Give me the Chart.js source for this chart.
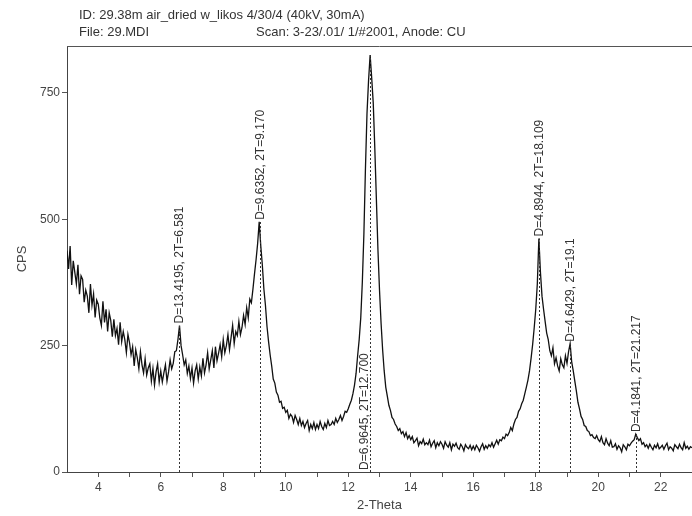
<!DOCTYPE html>
<html>
<head>
<meta charset="utf-8">
<script src="https://cdn.jsdelivr.net/npm/chart.js@4"></script>
<style>
  html, body { margin: 0; padding: 0; background: #fff; }
  #wrap { width: 692px; height: 516px; }
</style>
</head>
<body>
<div id="wrap"><canvas id="xrdChart" width="692" height="516"></canvas></div>
<script>
// scan 3-23 deg 2-theta, values read every 0.05 deg
const xStart = 3;
const xStep = 0.05;
const cps = [
  438, 402, 447, 370, 418, 395, 372, 410, 352, 388,
  381, 336, 360, 348, 315, 372, 330, 352, 306, 340,
  332, 305, 290, 338, 296, 322, 278, 315, 300, 268,
  302, 270, 284, 252, 296, 258, 278, 262, 236, 272,
  256, 232, 248, 210, 242, 226, 204, 238, 212, 196,
  224, 192, 206, 214, 180, 205, 172, 198, 214, 178,
  200, 178, 196, 212, 180, 198, 222, 204, 215, 238,
  240, 262, 290, 250, 232, 212, 222, 195, 210, 185,
  206, 176, 200, 212, 184, 208, 190, 225, 196, 212,
  236, 204, 222, 240, 206, 248, 220, 235, 252, 228,
  262, 236, 250, 272, 242, 266, 290, 254, 278, 270,
  298, 272, 286, 310, 292, 325, 305, 342, 335, 362,
  392, 420, 452, 495, 448, 410, 362, 330, 288, 258,
  232, 210, 184, 176, 158, 152, 138, 140, 126, 128,
  118, 122, 106, 114, 110, 98, 112, 104, 94, 106,
  92, 100, 88, 96, 102, 82, 94, 86, 98, 84,
  94, 86, 100, 90, 84, 96, 88, 102, 92, 94,
  100, 94, 106, 98, 104, 112, 102, 110, 120, 118,
  125, 134, 142, 155, 172, 195, 230, 262, 305, 375,
  470, 600, 710, 775, 825, 780, 730, 640, 540, 440,
  360, 295, 242, 200, 168, 150, 132, 122, 108, 104,
  95, 90, 82, 86, 76, 80, 70, 78, 66, 72,
  64, 70, 58, 62, 67, 52, 60, 56, 65, 54,
  58, 54, 63, 50, 57, 62, 48, 58, 52, 60,
  55, 47, 60, 53, 49, 58, 44, 55, 51, 57,
  48, 45, 55, 50, 42, 54, 49, 46, 53, 44,
  51, 44, 53, 48, 41, 50, 56, 45, 52, 47,
  54, 50, 58, 49, 56, 63, 55, 64, 62, 69,
  66, 75, 72, 78, 88, 82, 95, 104, 108, 120,
  125, 135, 142, 155, 168, 182, 200, 225, 252, 285,
  322, 372, 462, 395, 348, 322, 298, 275, 262, 240,
  230, 246, 214, 226, 210, 200, 224, 212, 206, 230,
  215, 238, 254, 218, 200, 180, 160, 138, 125, 110,
  104, 92, 90, 82, 80, 72, 74, 68, 66, 72,
  64, 60, 70, 58, 54, 66, 57, 52, 62, 49,
  50, 56, 45, 52, 48, 40, 54, 50, 44, 55,
  52, 57, 61, 64, 75, 68, 62, 66, 55, 58,
  50, 54, 47, 55, 49, 44, 53, 48, 56, 46,
  49, 53, 45, 52, 57, 44, 50, 47, 42, 54,
  50, 46, 55, 48, 44, 58, 47, 51, 45, 50,
  48
];

// marked peaks
const peakTheta = [6.581, 9.170, 12.700, 18.109, 19.1, 21.217];
const peakTwoT = ['6.581', '9.170', '12.700', '18.109', '19.1', '21.217'];
const peakD = ['13.4195', '9.6352', '6.9645', '4.8944', '4.6429', '4.1841'];
const peakCps = [290, 495, 825, 462, 254, 75];

const xTicks = [4, 5, 6, 7, 8, 9, 10, 11, 12, 13, 14, 15, 16, 17, 18, 19, 20, 21, 22];
const yTicks = [0, 250, 500, 750];

const headerLine1 = 'ID: 29.38m air_dried w_likos 4/30/4 (40kV, 30mA)';
const headerFile = 'File: 29.MDI';
const headerScan = 'Scan: 3-23/.01/ 1/#2001, Anode: CU';

const FONT = '"Liberation Sans", Arial, sans-serif';
const points = cps.map((v, i) => ({ x: +(xStart + i * xStep).toFixed(2), y: v }));

const peakPlugin = {
  id: 'peaks',
  afterDatasetsDraw(chart) {
    const { ctx, chartArea, scales: { x, y } } = chart;
    ctx.save();
    ctx.strokeStyle = '#333';
    ctx.fillStyle = '#333';
    ctx.lineWidth = 1;
    ctx.font = '12px ' + FONT;
    peakTheta.forEach((t, i) => {
      const px = Math.round(x.getPixelForValue(t)) + 0.5;
      const top = y.getPixelForValue(peakCps[i]);
      ctx.setLineDash([2, 2]);
      ctx.beginPath();
      ctx.moveTo(px, y.getPixelForValue(0));
      ctx.lineTo(px, top);
      ctx.stroke();
      ctx.setLineDash([]);

      const text = 'D=' + peakD[i] + ', 2T=' + peakTwoT[i];
      const w = ctx.measureText(text).width;
      ctx.save();
      if (top - w - 4 < chartArea.top) {
        // no room above the peak: write it up from the baseline
        ctx.translate(px - 6, chartArea.bottom - 2);
      } else {
        ctx.translate(px, top - 2);
      }
      ctx.rotate(-Math.PI / 2);
      ctx.textAlign = 'left';
      ctx.textBaseline = 'middle';
      ctx.fillText(text, 0, 0);
      ctx.restore();
    });
    ctx.restore();
  },
  afterDraw(chart) {
    const { ctx, chartArea } = chart;
    ctx.save();
    // top frame line
    ctx.strokeStyle = '#555';
    ctx.lineWidth = 1;
    ctx.beginPath();
    ctx.moveTo(chartArea.left, chartArea.top + 0.5);
    ctx.lineTo(chartArea.right, chartArea.top + 0.5);
    ctx.stroke();
    // header
    ctx.fillStyle = '#333';
    ctx.font = '13px ' + FONT;
    ctx.textBaseline = 'middle';
    ctx.fillText(headerLine1, 79, 15);
    ctx.fillText(headerFile, 79, 32);
    ctx.fillText(headerScan, 256, 32);
    ctx.restore();
  }
};

const ctx = document.getElementById('xrdChart').getContext('2d');
const xrdChart = new Chart(ctx, {
  type: 'line',
  data: {
    datasets: [{
      data: points,
      borderColor: '#111',
      borderWidth: 1.3,
      pointRadius: 0,
      tension: 0,
      fill: false,
    }]
  },
  options: {
    responsive: false,
    animation: false,
    layout: { padding: { top: 46, right: 0, left: 0, bottom: 0 } },
    plugins: {
      legend: { display: false },
      tooltip: { enabled: false },
    },
    scales: {
      x: {
        type: 'linear',
        min: 3,
        max: 23,
        afterBuildTicks: (s) => { s.ticks = xTicks.map(v => ({ value: v })); },
        afterFit: (s) => { s.height = 44; },
        grid: { drawOnChartArea: false, drawTicks: true, tickLength: 5, color: '#555' },
        border: { color: '#444', width: 1 },
        ticks: {
          color: '#444',
          font: { family: FONT, size: 12 },
          padding: 3,
          maxRotation: 0,
          autoSkip: false,
          callback: (v) => (v % 2 === 0 ? v : ''),
        },
        title: {
          display: true,
          text: '2-Theta',
          color: '#444',
          font: { family: FONT, size: 13 },
          padding: { top: 0, bottom: 3 },
        },
      },
      y: {
        min: 0,
        max: 843,
        afterBuildTicks: (s) => { s.ticks = yTicks.map(v => ({ value: v })); },
        afterFit: (s) => { s.width = 67; },
        grid: { drawOnChartArea: false, drawTicks: true, tickLength: 5, color: '#555' },
        border: { color: '#444', width: 1 },
        ticks: {
          color: '#444',
          font: { family: FONT, size: 12 },
          padding: 2,
        },
        title: {
          display: true,
          text: 'CPS',
          color: '#444',
          font: { family: FONT, size: 13 },
          padding: { top: 15, bottom: 0 },
        },
      },
    },
  },
  plugins: [peakPlugin],
});
</script>
</body>
</html>
